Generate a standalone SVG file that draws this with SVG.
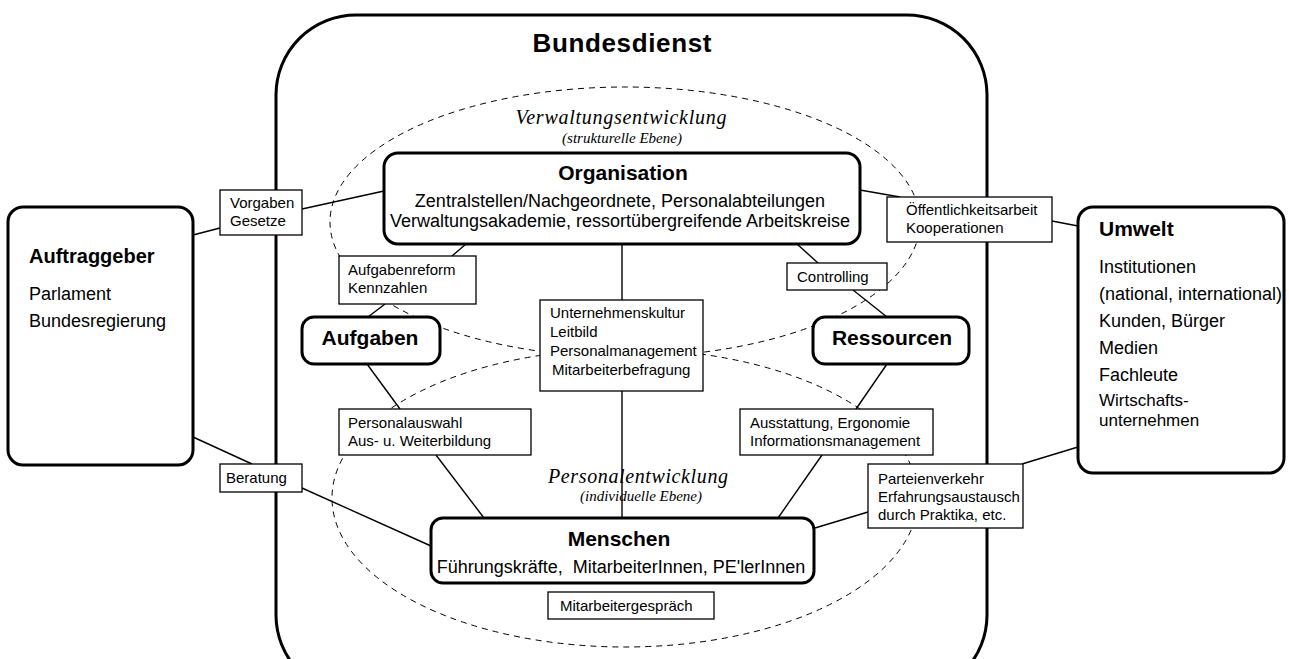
<svg xmlns="http://www.w3.org/2000/svg" width="1289" height="659" viewBox="0 0 1289 659">
<style>
text{font-family:"Liberation Sans",Arial,sans-serif;fill:#000}
.t{font-weight:bold;font-size:21px;text-anchor:middle}
.b{font-size:18px}
.s{font-size:15px}
.i{font-family:"Liberation Serif","Times New Roman",serif;font-style:italic;text-anchor:middle}
.thick{fill:#fff;stroke:#000;stroke-width:3}
.thin{fill:#fff;stroke:#000;stroke-width:1.3}
.dash{fill:none;stroke:#000;stroke-width:1;stroke-dasharray:6 5}
#connectors line{stroke:#000;stroke-width:1.4}
</style>
<rect width="1289" height="659" fill="#fff"/>
<g id="bundesdienst">
<rect x="276" y="15" width="711" height="680" rx="80" ry="80" fill="none" stroke="#000" stroke-width="3"/>
<text class="t" x="622" y="52" style="font-size:26px" textLength="179">Bundesdienst</text>
</g>
<g id="ebenen">
<ellipse class="dash" cx="625" cy="222" rx="295" ry="135"/>
<ellipse class="dash" cx="625" cy="498" rx="293" ry="149"/>
<text class="i" x="621" y="124" style="font-size:20px" textLength="211">Verwaltungsentwicklung</text>
<text class="i" x="622" y="143" style="font-size:15px">(strukturelle Ebene)</text>
<text class="i" x="638" y="483" style="font-size:20px" textLength="180">Personalentwicklung</text>
<text class="i" x="641" y="501" style="font-size:15px">(individuelle Ebene)</text>
</g>
<g id="connectors">
<line x1="193" y1="235" x2="220" y2="228"/>
<line x1="302" y1="209" x2="384" y2="191"/>
<line x1="860" y1="190" x2="900" y2="197"/>
<line x1="1052" y1="221" x2="1078" y2="226"/>
<line x1="466" y1="244" x2="452" y2="256"/>
<line x1="385" y1="304" x2="368" y2="317"/>
<line x1="367" y1="364" x2="400" y2="409"/>
<line x1="436" y1="455" x2="484" y2="518"/>
<line x1="797" y1="244" x2="818" y2="263"/>
<line x1="853" y1="290" x2="887" y2="317"/>
<line x1="887" y1="364" x2="856" y2="409"/>
<line x1="822" y1="455" x2="778" y2="518"/>
<line x1="622" y1="244" x2="622" y2="300"/>
<line x1="622" y1="391" x2="622" y2="518"/>
<line x1="193" y1="437" x2="252" y2="464"/>
<line x1="302" y1="488" x2="431" y2="546"/>
<line x1="868" y1="512" x2="815" y2="528"/>
<line x1="1022" y1="464" x2="1078" y2="447"/>
</g>
<g id="auftraggeber">
<rect class="thick" x="8" y="207" width="185" height="258" rx="15"/>
<text x="29" y="263" style="font-weight:bold;font-size:20px">Auftraggeber</text>
<text class="b" x="29" y="300">Parlament</text>
<text class="b" x="29" y="327">Bundesregierung</text>
</g>
<g id="umwelt">
<rect class="thick" x="1078" y="207" width="206" height="266" rx="15"/>
<text x="1099" y="236" style="font-weight:bold;font-size:21px">Umwelt</text>
<text class="b" x="1099" y="273">Institutionen</text>
<text class="b" x="1099" y="300">(national, international)</text>
<text class="b" x="1099" y="327">Kunden, Bürger</text>
<text class="b" x="1099" y="354">Medien</text>
<text class="b" x="1099" y="381">Fachleute</text>
<text x="1099" y="406" style="font-size:17px">Wirtschafts-</text>
<text x="1099" y="426" style="font-size:17px">unternehmen</text>
</g>
<g id="organisation">
<rect class="thick" x="384" y="153" width="476" height="91" rx="14"/>
<text class="t" x="623" y="180">Organisation</text>
<text class="b" x="620" y="207" text-anchor="middle">Zentralstellen/Nachgeordnete, Personalabteilungen</text>
<text class="b" x="620" y="227" text-anchor="middle">Verwaltungsakademie, ressortübergreifende Arbeitskreise</text>
</g>
<g id="aufgaben">
<rect class="thick" x="302" y="317" width="138" height="47" rx="12"/>
<text class="t" x="370" y="345">Aufgaben</text>
</g>
<g id="ressourcen">
<rect class="thick" x="813" y="317" width="156" height="47" rx="12"/>
<text class="t" x="892" y="345">Ressourcen</text>
</g>
<g id="menschen">
<rect class="thick" x="431" y="518" width="383" height="65" rx="12"/>
<text class="t" x="619" y="546">Menschen</text>
<text class="b" x="621" y="573" text-anchor="middle" xml:space="preserve">Führungskräfte,  MitarbeiterInnen, PE'lerInnen</text>
</g>
<g id="vorgaben">
<rect class="thin" x="220" y="190" width="82" height="45"/>
<text class="s" x="230" y="208">Vorgaben</text>
<text class="s" x="230" y="226">Gesetze</text>
</g>
<g id="oeffentlichkeit">
<rect class="thin" x="887" y="197" width="165" height="45"/>
<text class="s" x="906" y="215">Öffentlichkeitsarbeit</text>
<text class="s" x="906" y="233">Kooperationen</text>
</g>
<g id="aufgabenreform">
<rect class="thin" x="339" y="256" width="137" height="48"/>
<text class="s" x="348" y="275">Aufgabenreform</text>
<text class="s" x="348" y="293">Kennzahlen</text>
</g>
<g id="controlling">
<rect class="thin" x="787" y="263" width="100" height="27"/>
<text class="s" x="797" y="282">Controlling</text>
</g>
<g id="unternehmenskultur">
<rect class="thin" x="540" y="300" width="163" height="91"/>
<text class="s" x="550" y="318">Unternehmenskultur</text>
<text class="s" x="550" y="337">Leitbild</text>
<text class="s" x="550" y="356">Personalmanagement</text>
<text class="s" x="552" y="375">Mitarbeiterbefragung</text>
</g>
<g id="personalauswahl">
<rect class="thin" x="339" y="409" width="192" height="46"/>
<text class="s" x="348" y="428">Personalauswahl</text>
<text class="s" x="348" y="446">Aus- u. Weiterbildung</text>
</g>
<g id="ausstattung">
<rect class="thin" x="740" y="409" width="193" height="46"/>
<text class="s" x="750" y="428">Ausstattung, Ergonomie</text>
<text class="s" x="750" y="446">Informationsmanagement</text>
</g>
<g id="beratung">
<rect class="thin" x="220" y="464" width="82" height="28"/>
<text class="s" x="226" y="483">Beratung</text>
</g>
<g id="parteienverkehr">
<rect class="thin" x="868" y="464" width="155" height="64"/>
<text class="s" x="878" y="484">Parteienverkehr</text>
<text class="s" x="878" y="502">Erfahrungsaustausch</text>
<text class="s" x="878" y="520">durch Praktika, etc.</text>
</g>
<g id="mitarbeitergespraech">
<rect class="thin" x="548" y="592" width="166" height="27"/>
<text class="s" x="560" y="611">Mitarbeitergespräch</text>
</g>
</svg>
